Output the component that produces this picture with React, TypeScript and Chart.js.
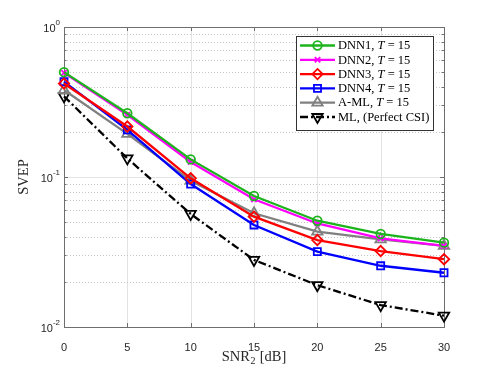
import React, { useEffect, useRef } from 'react';
import { Chart, registerables } from 'chart.js';
import { drawPoint } from 'chart.js/helpers';

Chart.register(...registerables);

// ---- data ----
const snr = [0, 5, 10, 15, 20, 25, 30];
const xTicks = [0, 5, 10, 15, 20, 25, 30];
const yDecades = [-2, -1, 0];
const dnn1 = [0.5, 0.266, 0.131, 0.0747, 0.0511, 0.0417, 0.0365];
const dnn2 = [0.495, 0.26, 0.126, 0.071, 0.049, 0.039, 0.0347];
const dnn3 = [0.42, 0.217, 0.098, 0.0544, 0.038, 0.0321, 0.0283];
const dnn4 = [0.432, 0.206, 0.0898, 0.0479, 0.0318, 0.0256, 0.023];
const aml = [0.38, 0.194, 0.0945, 0.0573, 0.0432, 0.0384, 0.0347];
const ml = [0.345, 0.133, 0.0567, 0.028, 0.019, 0.014, 0.0119];
const seriesNames = ['DNN1', 'DNN2', 'DNN3', 'DNN4', 'A-ML', 'ML'];
const legendParts = [
  [['DNN1, ', false], ['T', true], [' = 15', false]],
  [['DNN2, ', false], ['T', true], [' = 15', false]],
  [['DNN3, ', false], ['T', true], [' = 15', false]],
  [['DNN4, ', false], ['T', true], [' = 15', false]],
  [['A-ML, ', false], ['T', true], [' = 15', false]],
  [['ML, (Perfect CSI)', false]],
] as [string, boolean][][];
const xTitleMain = 'SNR';
const xTitleSub = '2';
const xTitleRest = ' [dB]';
const yTitle = 'SVEP';

// ---- styles ----
const seriesValues = [dnn1, dnn2, dnn3, dnn4, aml, ml];
const styles = [
  { color: '#1db31d', pointStyle: 'circle', radius: 4.3, rotation: 0, dash: [] as number[] },
  { color: '#ff00ff', pointStyle: 'crossRot', radius: 3.8, rotation: 0, dash: [] as number[] },
  { color: '#ff0000', pointStyle: 'rectRot', radius: 5.2, rotation: 0, dash: [] as number[] },
  { color: '#0000ff', pointStyle: 'rect', radius: 5, rotation: 0, dash: [] as number[] },
  { color: '#808080', pointStyle: 'triangle', radius: 6, rotation: 0, dash: [] as number[] },
  { color: '#000000', pointStyle: 'triangle', radius: 6, rotation: 180, dash: [8, 3, 2, 3] },
];

const TICK_FONT = '11px "Liberation Sans", Arial, sans-serif';
const SERIF = '"Liberation Serif", "Times New Roman", serif';

const framePlugin = {
  id: 'matlabFrame',
  beforeDatasetsDraw(chart: any) {
    const { ctx, chartArea: ca, scales } = chart;
    const xs = scales.x;
    const ys = scales.y;
    ctx.save();
    // vertical grid
    ctx.strokeStyle = '#e3e3e3';
    ctx.lineWidth = 1;
    ctx.setLineDash([]);
    xTicks.forEach((t) => {
      const px = Math.round(xs.getPixelForValue(t)) + 0.5;
      if (px <= ca.left + 1 || px >= ca.right - 1) return;
      ctx.beginPath();
      ctx.moveTo(px, ca.top);
      ctx.lineTo(px, ca.bottom);
      ctx.stroke();
    });
    // horizontal grid
    for (let d = yDecades[0]; d < yDecades[yDecades.length - 1]; d++) {
      for (let m = 1; m <= 9; m++) {
        const v = m * Math.pow(10, d);
        const py = Math.round(ys.getPixelForValue(v)) + 0.5;
        if (py <= ca.top + 1 || py >= ca.bottom - 1) continue;
        ctx.beginPath();
        if (m === 1) {
          ctx.setLineDash([]);
          ctx.strokeStyle = '#e3e3e3';
        } else {
          ctx.setLineDash([1, 2]);
          ctx.strokeStyle = '#c6c6c6';
        }
        ctx.moveTo(ca.left, py);
        ctx.lineTo(ca.right, py);
        ctx.stroke();
      }
    }
    ctx.setLineDash([]);
    // box
    ctx.strokeStyle = '#6e6e6e';
    ctx.lineWidth = 1;
    ctx.strokeRect(Math.round(ca.left) + 0.5, Math.round(ca.top) + 0.5, Math.round(ca.right - ca.left), Math.round(ca.bottom - ca.top));
    // tick marks
    ctx.beginPath();
    xTicks.forEach((t) => {
      const px = Math.round(xs.getPixelForValue(t)) + 0.5;
      ctx.moveTo(px, ca.bottom);
      ctx.lineTo(px, ca.bottom - 4);
      ctx.moveTo(px, ca.top);
      ctx.lineTo(px, ca.top + 4);
    });
    for (let d = yDecades[0]; d <= yDecades[yDecades.length - 1]; d++) {
      for (let m = 1; m <= 9; m++) {
        if (d === yDecades[yDecades.length - 1] && m > 1) break;
        const v = m * Math.pow(10, d);
        const py = Math.round(ys.getPixelForValue(v)) + 0.5;
        const len = m === 1 ? 4 : 2.5;
        ctx.moveTo(ca.left, py);
        ctx.lineTo(ca.left + len, py);
        ctx.moveTo(ca.right, py);
        ctx.lineTo(ca.right - len, py);
      }
    }
    ctx.stroke();
    // y tick labels 10^d
    ctx.fillStyle = '#262626';
    ctx.textBaseline = 'middle';
    yDecades.forEach((d) => {
      const py = ys.getPixelForValue(Math.pow(10, d));
      const exp = d === 0 ? '0' : '-' + Math.abs(d);
      ctx.font = '8px "Liberation Sans", Arial, sans-serif';
      const ew = ctx.measureText(exp).width;
      const right = ca.left - 4;
      ctx.textAlign = 'right';
      ctx.fillText(exp, right, py - 4);
      ctx.font = TICK_FONT;
      ctx.fillText('10', right - ew, py + 2);
    });
    // x axis title with subscript
    ctx.fillStyle = '#262626';
    ctx.textAlign = 'left';
    ctx.textBaseline = 'alphabetic';
    const mainFont = '14.5px ' + SERIF;
    const subFont = '10px ' + SERIF;
    ctx.font = mainFont;
    const w1 = ctx.measureText(xTitleMain).width;
    const w3 = ctx.measureText(xTitleRest).width;
    ctx.font = subFont;
    const w2 = ctx.measureText(xTitleSub).width;
    const total = w1 + w2 + 1 + w3;
    let tx = (ca.left + ca.right) / 2 - total / 2;
    const base = 361;
    ctx.font = mainFont;
    ctx.fillText(xTitleMain, tx, base);
    tx += w1;
    ctx.font = subFont;
    ctx.fillText(xTitleSub, tx + 0.5, base + 2.5);
    tx += w2 + 1;
    ctx.font = mainFont;
    ctx.fillText(xTitleRest, tx, base);
    ctx.restore();
  },
  afterDatasetsDraw(chart: any) {
    const { ctx, chartArea: ca } = chart;
    ctx.save();
    const w = 137;
    const h = 94;
    const left = ca.right - 11 - w;
    const top = ca.top + 9;
    ctx.fillStyle = '#ffffff';
    ctx.fillRect(left, top, w, h);
    ctx.strokeStyle = '#333333';
    ctx.lineWidth = 1;
    ctx.strokeRect(Math.round(left) + 0.5, Math.round(top) + 0.5, w, h);
    const step = 14.3;
    seriesNames.forEach((_, i) => {
      const st = styles[i];
      const y = top + 9.5 + i * step;
      ctx.strokeStyle = st.color;
      ctx.lineWidth = 2.3;
      ctx.setLineDash(st.dash);
      ctx.beginPath();
      ctx.moveTo(left + 4, y);
      ctx.lineTo(left + 39, y);
      ctx.stroke();
      ctx.setLineDash([]);
      ctx.fillStyle = 'rgba(0,0,0,0)';
      ctx.lineWidth = 1.8;
      drawPoint(ctx, { pointStyle: st.pointStyle, rotation: st.rotation, radius: st.radius, borderWidth: 1.8 } as any, left + 21.5, y);
      let tx = left + 42;
      ctx.fillStyle = '#000000';
      ctx.textAlign = 'left';
      ctx.textBaseline = 'middle';
      legendParts[i].forEach(([txt, it]) => {
        ctx.font = (it ? 'italic ' : '') + '12.5px ' + SERIF;
        ctx.fillText(txt, tx, y + 0.5);
        tx += ctx.measureText(txt).width;
      });
    });
    ctx.restore();
  },
};

export default function App() {
  const ref = useRef<HTMLCanvasElement | null>(null);
  useEffect(() => {
    if (!ref.current) return;
    const chart = new Chart(ref.current, {
      type: 'line',
      data: {
        datasets: seriesNames.map((name, i) => ({
          label: name,
          data: snr.map((x, j) => ({ x, y: seriesValues[i][j] })),
          borderColor: styles[i].color,
          backgroundColor: 'rgba(0,0,0,0)',
          borderWidth: 2.3,
          borderDash: styles[i].dash,
          pointStyle: styles[i].pointStyle as any,
          pointRadius: styles[i].radius,
          pointRotation: styles[i].rotation,
          pointBorderWidth: 1.8,
          pointBorderColor: styles[i].color,
          pointBackgroundColor: 'rgba(0,0,0,0)',
          fill: false,
          tension: 0,
          clip: false as any,
        })),
      },
      options: {
        animation: false,
        responsive: false,
        layout: { padding: { left: 0, top: 27, right: 47, bottom: 0 } },
        plugins: { legend: { display: false }, tooltip: { enabled: false } },
        scales: {
          x: {
            type: 'linear',
            min: 0,
            max: 30,
            afterBuildTicks: (s: any) => {
              s.ticks = xTicks.map((v) => ({ value: v }));
            },
            ticks: { color: '#262626', font: { family: '"Liberation Sans", Arial, sans-serif', size: 11 }, padding: 6, maxRotation: 0 },
            grid: { display: false },
            border: { display: false },
            title: { display: false },
            afterFit: (s: any) => {
              s.height = 41;
            },
          },
          y: {
            type: 'logarithmic',
            min: 0.01,
            max: 1,
            ticks: { display: false },
            grid: { display: false },
            border: { display: false },
            title: { display: true, text: yTitle, color: '#262626', font: { family: SERIF, size: 14.5 }, padding: { top: 15, bottom: 0 } },
            afterFit: (s: any) => {
              s.width = 64;
            },
          },
        },
      },
      plugins: [framePlugin],
    });
    return () => chart.destroy();
  }, []);
  return (
    <div style={{ position: 'fixed', left: 0, top: 0, width: 491, height: 368, background: '#ffffff' }}>
      <canvas ref={ref} width={491} height={368} style={{ width: 491, height: 368, display: 'block' }} />
    </div>
  );
}
